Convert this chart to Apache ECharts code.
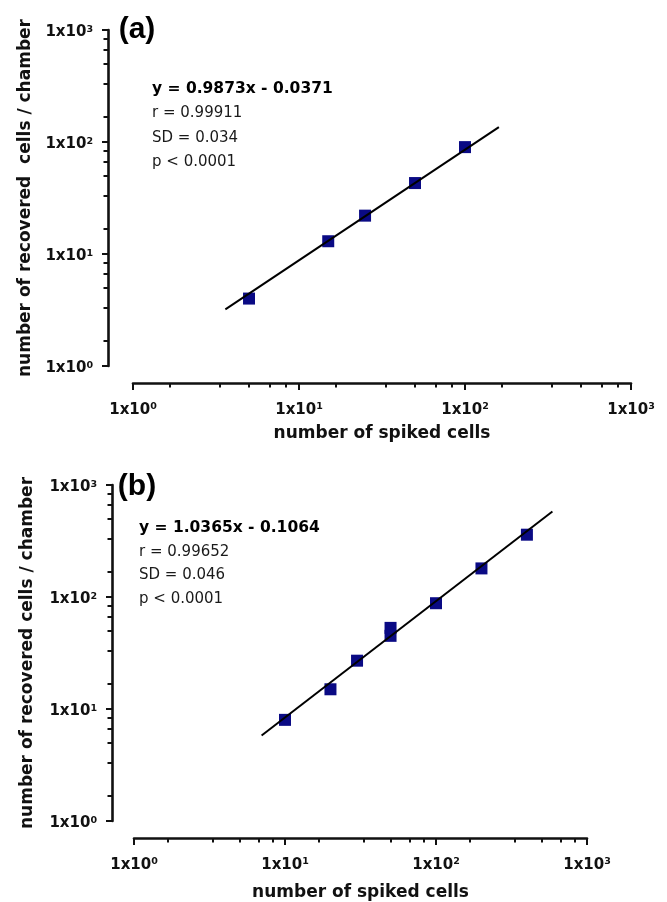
<!DOCTYPE html>
<html>
<head>
<meta charset="utf-8">
<script src="https://cdn.jsdelivr.net/npm/echarts@6/dist/echarts.min.js"></script>
<style>
html,body{margin:0;padding:0;background:#fff;}
#chart{width:667px;height:902px;}
</style>
</head>
<body>
<div id="chart"></div>
<script>
// Panel (a) data
var xA = [5, 15, 25, 50, 100];
var yA = [4, 13, 22, 43, 90];
var fitA = [[3.6, 3.2], [160, 136]];
// Panel (b) data
var xB = [10, 20, 30, 50, 50, 100, 200, 400];
var yB = [8, 15, 27, 45, 53, 88, 180, 360];
var fitB = [[7, 5.8], [590, 580]];
// Ticks
var majorTicks = [1, 10, 100, 1000];
var minorTicks = [1.667, 3.333, 5, 6.667, 8.333,
                  16.67, 33.33, 50, 66.67, 83.33,
                  166.7, 333.3, 500, 666.7, 833.3];
var statsA = ['y = 0.9873x - 0.0371', 'r = 0.99911', 'SD = 0.034', 'p < 0.0001'];
var statsB = ['y = 1.0365x - 0.1064', 'r = 0.99652', 'SD = 0.046', 'p < 0.0001'];
var xName = 'number of spiked cells';
var yNameA = 'number of recovered  cells / chamber';
var yNameB = 'number of recovered cells / chamber';

var FONT = 'DejaVu Sans';
var chart = echarts.init(document.getElementById('chart'), null, {renderer: 'canvas'});

function labelFmt(v) {
  return '1x10{s|' + Math.round(Math.log10(v)) + '}';
}
var richSup = {s: {fontSize: 9.5, fontWeight: 'bold', fontFamily: FONT, color: '#111', verticalAlign: 'top', lineHeight: 16}};

function mainAxis(dir, grid, offset, name, nameGap) {
  var isX = dir === 'x';
  return {
    type: 'log', logBase: 10, min: 1, max: 1000, gridIndex: grid,
    position: isX ? 'bottom' : 'left', offset: offset,
    name: name, nameLocation: 'middle', nameGap: nameGap,
    nameRotate: isX ? 0 : 90,
    nameTextStyle: {fontFamily: FONT, fontWeight: 'bold', fontSize: 17, color: '#111'},
    axisLine: {show: true, lineStyle: {color: '#111', width: 2.6}},
    axisTick: {show: true, inside: false, length: isX ? 7 : 6, customValues: majorTicks, lineStyle: {color: '#111', width: 2}},
    axisLabel: {show: true, customValues: majorTicks, margin: isX ? 19 : 15, formatter: labelFmt,
      padding: isX ? 0 : [5, 0, 0, 0],
      fontFamily: FONT, fontWeight: 'bold', fontSize: 15, color: '#111', lineHeight: 16, rich: richSup},
    splitLine: {show: false}, minorTick: {show: false}, minorSplitLine: {show: false}
  };
}
function minorAxis(dir, grid, offset) {
  var isX = dir === 'x';
  return {
    type: 'log', logBase: 10, min: 1, max: 1000, gridIndex: grid,
    position: isX ? 'bottom' : 'left', offset: offset,
    axisLine: {show: false},
    axisTick: {show: true, inside: false, length: 4.5, customValues: minorTicks, lineStyle: {color: '#111', width: 2}},
    axisLabel: {show: false},
    splitLine: {show: false}
  };
}

function pts(xs, ys) { return xs.map(function (x, i) { return [x, ys[i]]; }); }

function statTexts(arr, x, y0, dy) {
  return arr.map(function (t, i) {
    return {
      type: 'text', x: x, y: y0 + i * dy, silent: true,
      style: {text: t, fill: i === 0 ? '#000' : '#1a1a1a', verticalAlign: 'middle', align: 'left',
        font: (i === 0 ? 'bold 15.5px ' : '15px ') + FONT}
    };
  });
}

var option = {
  animation: false,
  backgroundColor: '#fff',
  grid: [
    {left: 133, top: 30, width: 498, height: 336},
    {left: 134, top: 485, width: 453, height: 338}
  ],
  xAxis: [
    mainAxis('x', 0, 17, xName, 42),
    minorAxis('x', 0, 17),
    mainAxis('x', 1, 17, xName, 46),
    minorAxis('x', 1, 17)
  ],
  yAxis: [
    mainAxis('y', 0, 25, yNameA, 72),
    minorAxis('y', 0, 25),
    mainAxis('y', 1, 22, yNameB, 76),
    minorAxis('y', 1, 22)
  ],
  series: [
    {type: 'scatter', xAxisIndex: 0, yAxisIndex: 0, data: pts(xA, yA), symbol: 'rect', symbolSize: 12,
      itemStyle: {color: '#0a0a84', opacity: 1}, z: 2},
    {type: 'line', xAxisIndex: 0, yAxisIndex: 0, data: fitA, showSymbol: false, symbol: 'none',
      lineStyle: {color: '#000', width: 2}, z: 3},
    {type: 'scatter', xAxisIndex: 2, yAxisIndex: 2, data: pts(xB, yB), symbol: 'rect', symbolSize: 12,
      itemStyle: {color: '#0a0a84', opacity: 1}, z: 2},
    {type: 'line', xAxisIndex: 2, yAxisIndex: 2, data: fitB, showSymbol: false, symbol: 'none',
      lineStyle: {color: '#000', width: 2}, z: 3}
  ],
  graphic: [
    {type: 'text', x: 137, y: 30, silent: true,
      style: {text: '(a)', font: 'bold 30px "Liberation Sans"', fill: '#000', align: 'center', verticalAlign: 'middle'}},
    {type: 'text', x: 137, y: 487, silent: true,
      style: {text: '(b)', font: 'bold 30px "Liberation Sans"', fill: '#000', align: 'center', verticalAlign: 'middle'}}
  ].concat(statTexts(statsA, 152, 89, 24.5)).concat(statTexts(statsB, 139, 528, 23.7))
};
chart.setOption(option);
</script>
</body>
</html>
